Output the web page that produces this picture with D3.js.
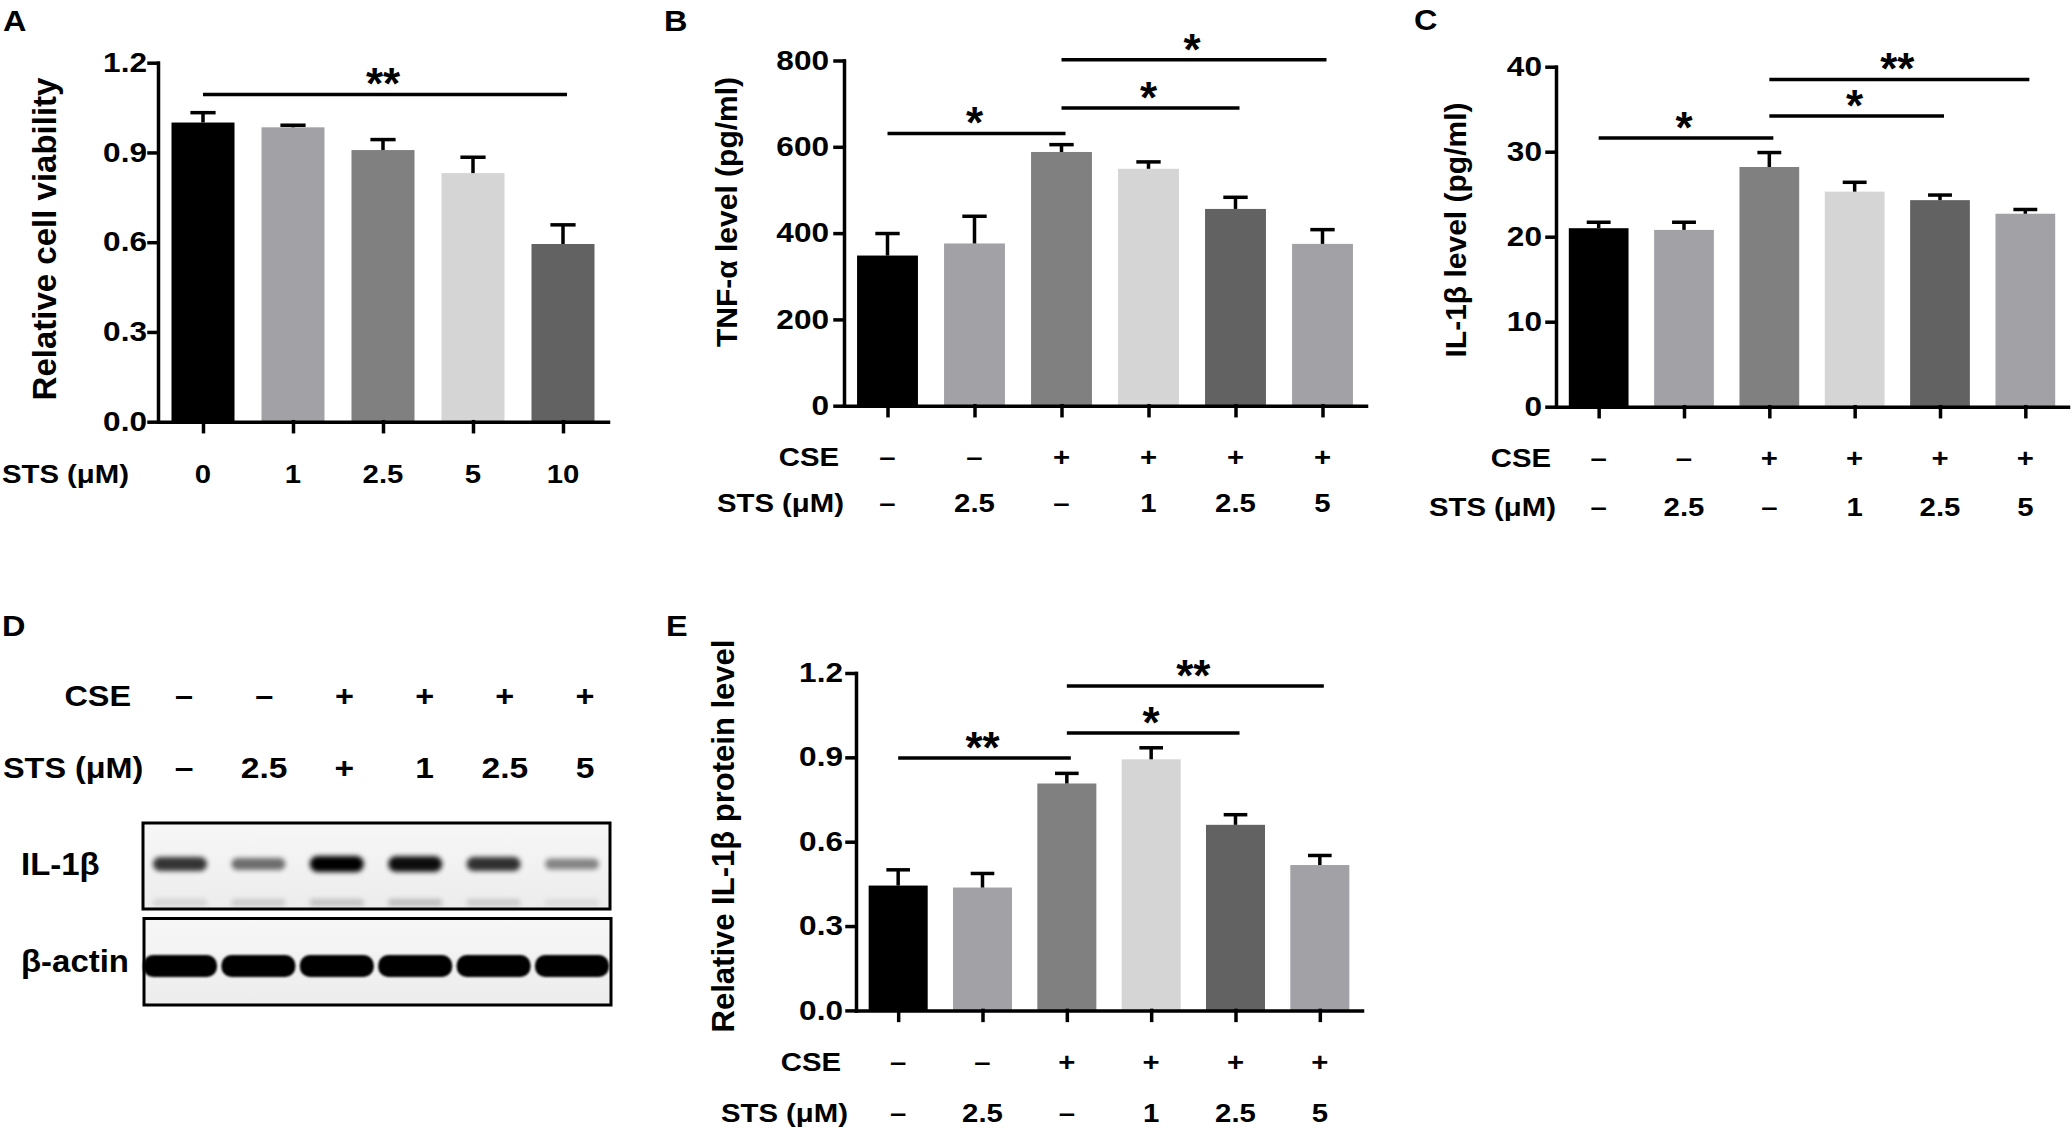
<!DOCTYPE html>
<html lang="en">
<head>
<meta charset="UTF-8">
<title>STS and CSE panels</title>
<script src="https://d3js.org/d3.v7.min.js"></script>
<style>
  body { margin: 0; background: #fff; }
  svg text { font-family: "Liberation Sans", Arial, sans-serif; font-weight: bold; fill: #000; }
  .axis path, .axis line { stroke: #000; stroke-width: 3.5px; stroke-linecap: square; }
  .axis .tick text { font-size: 27px; font-family: "Liberation Sans", Arial, sans-serif; }
</style>
</head>
<body>
<svg id="fig" width="2072" height="1130"></svg>
<script>
// ---- data ----
const stsDoses = ["0", "1", "2.5", "5", "10"];
const viability = [1.00, 0.984, 0.908, 0.831, 0.594];
const viabilityErr = [0.033, 0.007, 0.035, 0.053, 0.064];

const cseRow = ["–", "–", "+", "+", "+", "+"];
const stsRow = ["–", "2.5", "–", "1", "2.5", "5"];
const blotStsRow = ["–", "2.5", "+", "1", "2.5", "5"];

const tnf = [348, 376, 588, 549, 456, 375];
const tnfErr = [51, 63, 17, 16, 27, 33];

const il1b = [21.0, 20.8, 28.2, 25.3, 24.3, 22.7];
const il1bErr = [0.7, 0.9, 1.7, 1.1, 0.6, 0.5];

const protein = [0.444, 0.437, 0.807, 0.893, 0.660, 0.517];
const proteinErr = [0.056, 0.050, 0.036, 0.041, 0.036, 0.034];

// blot band strength per lane (0..1)
const il1bBand = [0.78, 0.55, 1.0, 0.95, 0.8, 0.45];
const lowerBand = [0.10, 0.14, 0.18, 0.2, 0.14, 0.07];
const actinBand = [1, 1, 1, 1, 1, 1];

// significance brackets: [from, to, value, label]
const sigA = [[0, 4, 1.094, "**"]];
const sigB = [[0, 2, 631, "*"], [2, 4, 690, "*"], [2, 5, 802, "*"]];
const sigC = [[0, 2, 31.6, "*"], [2, 4, 34.2, "*"], [2, 5, 38.5, "**"]];
const sigE = [[0, 2, 0.898, "**"], [2, 4, 0.987, "*"], [2, 5, 1.154, "**"]];

const ticksRel = [0, 0.3, 0.6, 0.9, 1.2];
const ticksTnf = [0, 200, 400, 600, 800];
const ticksIl = [0, 10, 20, 30, 40];

const barColors = ["#000000", "#a1a1a6", "#808080", "#d5d5d5", "#626262", "#a1a1a6"];

const svg = d3.select("#fig");
svg.append("rect").attr("width", 2072).attr("height", 1130).attr("fill", "#fff");

// horizontal text, slightly widened like the original figure lettering
function htext(parent, x, y, str, size, anchor, sx) {
  return parent.append("text")
      .attr("transform", `translate(${x},${y}) scale(${sx || 1.15},1)`)
      .attr("text-anchor", anchor || "start")
      .attr("font-size", size)
      .text(str);
}

function barPanel(cfg) {
  const g = svg.append("g");
  const cats = cfg.values.map((d, i) => i);
  const x = d3.scalePoint().domain(cats).range([cfg.x0, cfg.x1]).padding(0.5);
  const y = d3.scaleLinear().domain([0, cfg.max]).range([cfg.yBot, cfg.yTop]);
  const bw = x.step() * 0.7;
  const cw = bw * 0.4;

  // bars
  g.selectAll("rect.bar").data(cfg.values).join("rect")
      .attr("class", "bar")
      .attr("x", (d, i) => x(i) - bw / 2)
      .attr("y", d => y(d))
      .attr("width", bw)
      .attr("height", d => y(0) - y(d))
      .attr("fill", (d, i) => barColors[i]);

  // error bars (upper only)
  const eb = g.selectAll("g.err").data(cfg.values).join("g").attr("class", "err");
  eb.append("line")
      .attr("x1", (d, i) => x(i)).attr("x2", (d, i) => x(i))
      .attr("y1", d => y(d)).attr("y2", (d, i) => y(d + cfg.errs[i]))
      .attr("stroke", "#000").attr("stroke-width", 3.5);
  eb.append("line")
      .attr("x1", (d, i) => x(i) - cw / 2).attr("x2", (d, i) => x(i) + cw / 2)
      .attr("y1", (d, i) => y(d + cfg.errs[i])).attr("y2", (d, i) => y(d + cfg.errs[i]))
      .attr("stroke", "#000").attr("stroke-width", 3.5);

  // axes
  const sx = 1.17;
  g.append("g").attr("class", "axis")
      .attr("transform", `translate(${cfg.x0},0)`)
      .call(d3.axisLeft(y).tickValues(cfg.ticks).tickFormat(cfg.fmt)
        .tickSize(9).tickSizeOuter(0))
    .selectAll(".tick text")
      .attr("x", -cfg.gap / sx)
      .attr("transform", `scale(${sx},1)`);
  g.append("g").attr("class", "axis")
      .attr("transform", `translate(0,${cfg.yBot})`)
      .call(d3.axisBottom(x).tickFormat("").tickSize(10).tickSizeOuter(0));

  // y label
  g.append("text")
      .attr("transform", `translate(${cfg.labX},${cfg.labY}) rotate(-90)`)
      .attr("text-anchor", "middle")
      .attr("font-size", cfg.labSize)
      .text(cfg.ylabel);

  // significance
  cfg.sig.forEach(s => {
    const xa = x(s[0]), xb = x(s[1]), yy = y(s[2]);
    g.append("line").attr("x1", xa).attr("x2", xb + 4).attr("y1", yy).attr("y2", yy)
        .attr("stroke", "#000").attr("stroke-width", 3.5);
    g.append("text").attr("x", (xa + xb) / 2).attr("y", yy + 5)
        .attr("text-anchor", "middle").attr("font-size", 44).text(s[3]);
  });

  // treatment rows under the axis
  cfg.rows.forEach(r => {
    htext(g, r.right, r.y, r.label, 25.5, "end");
    r.vals.forEach((v, i) => htext(g, x(i), r.y, v, 25.5, "middle"));
  });
}

// A
htext(svg, 3, 31, "A", 29, "start", 1.12);
barPanel({
  values: viability, errs: viabilityErr, max: 1.2, ticks: ticksRel, fmt: d3.format(".1f"),
  x0: 158, x1: 608, yTop: 62.7, yBot: 421.7, gap: 11,
  ylabel: "Relative cell viability", labX: 56, labY: 239, labSize: 33,
  sig: sigA,
  rows: [{ label: "STS (μM)", vals: stsDoses, y: 483, right: 129 }]
});

// B
htext(svg, 664, 31, "B", 29, "start", 1.12);
barPanel({
  values: tnf, errs: tnfErr, max: 800, ticks: ticksTnf, fmt: d3.format("d"),
  x0: 844, x1: 1366, yTop: 60.5, yBot: 405.7, gap: 15,
  ylabel: "TNF-α level (pg/ml)", labX: 737, labY: 212, labSize: 30,
  sig: sigB,
  rows: [{ label: "CSE", vals: cseRow, y: 466, right: 839 },
         { label: "STS (μM)", vals: stsRow, y: 512, right: 844 }]
});

// C
htext(svg, 1414, 30, "C", 29, "start", 1.12);
barPanel({
  values: il1b, errs: il1bErr, max: 40, ticks: ticksIl, fmt: d3.format("d"),
  x0: 1556, x1: 2068, yTop: 66.7, yBot: 406.7, gap: 14,
  ylabel: "IL-1β level (pg/ml)", labX: 1466, labY: 230, labSize: 30,
  sig: sigC,
  rows: [{ label: "CSE", vals: cseRow, y: 467, right: 1551 },
         { label: "STS (μM)", vals: stsRow, y: 516, right: 1556 }]
});

// E
htext(svg, 666, 636, "E", 29, "start", 1.12);
barPanel({
  values: protein, errs: proteinErr, max: 1.2, ticks: ticksRel, fmt: d3.format(".1f"),
  x0: 856, x1: 1362, yTop: 673, yBot: 1010.4, gap: 13,
  ylabel: "Relative IL-1β protein level", labX: 734, labY: 836, labSize: 31,
  sig: sigE,
  rows: [{ label: "CSE", vals: cseRow, y: 1071, right: 841 },
         { label: "STS (μM)", vals: stsRow, y: 1122, right: 848 }]
});

// D: western blot
htext(svg, 2, 636, "D", 29, "start", 1.12);
const defs = svg.append("defs");
defs.append("filter").attr("id", "blur").attr("x", "-20%").attr("y", "-80%")
    .attr("width", "140%").attr("height", "260%")
  .append("feGaussianBlur").attr("stdDeviation", 2.4);
defs.append("filter").attr("id", "blurS").attr("x", "-20%").attr("y", "-80%")
    .attr("width", "140%").attr("height", "260%")
  .append("feGaussianBlur").attr("stdDeviation", 1.3);
const grad = defs.append("linearGradient").attr("id", "blotBg")
    .attr("x1", 0).attr("y1", 0).attr("x2", 0).attr("y2", 1);
grad.append("stop").attr("offset", 0).attr("stop-color", "#f7f7f7");
grad.append("stop").attr("offset", 1).attr("stop-color", "#ececec");

const lanes = d3.range(6);
const labelX = d3.scalePoint().domain(lanes).range([184, 585]);
const laneX = d3.scalePoint().domain(lanes).range([180, 572]);
const d = svg.append("g");

htext(d, 131, 706, "CSE", 30, "end", 1.08);
cseRow.forEach((v, i) => htext(d, labelX(i), 706, v, 30, "middle", 1.08));
htext(d, 3, 778, "STS (μM)", 30, "start", 1.08);
blotStsRow.forEach((v, i) => htext(d, labelX(i), 778, v, 30, "middle", 1.12));

// boxes
d.append("rect").attr("x", 143).attr("y", 823).attr("width", 467).attr("height", 86)
    .attr("fill", "url(#blotBg)").attr("stroke", "#000").attr("stroke-width", 3);
d.append("rect").attr("x", 144).attr("y", 918.5).attr("width", 467).attr("height", 86.5)
    .attr("fill", "url(#blotBg)").attr("stroke", "#000").attr("stroke-width", 3);

d.selectAll("rect.il").data(il1bBand).join("rect").attr("class", "il")
    .attr("x", (v, i) => laneX(i) - 27).attr("width", 54)
    .attr("y", v => 864 - (7 + 9 * v) / 2).attr("height", v => 7 + 9 * v)
    .attr("rx", v => (7 + 9 * v) / 2)
    .attr("fill", "#000").attr("opacity", v => v)
    .attr("filter", "url(#blur)");
d.selectAll("rect.low").data(lowerBand).join("rect").attr("class", "low")
    .attr("x", (v, i) => laneX(i) - 27).attr("width", 54)
    .attr("y", 899).attr("height", 7).attr("rx", 3)
    .attr("fill", "#000").attr("opacity", v => v)
    .attr("filter", "url(#blur)");
d.selectAll("rect.act").data(actinBand).join("rect").attr("class", "act")
    .attr("x", (v, i) => laneX(i) - 37).attr("width", 74)
    .attr("y", 955).attr("height", 22).attr("rx", 10)
    .attr("fill", "#000").attr("opacity", v => v)
    .attr("filter", "url(#blurS)");

htext(d, 21, 875, "IL-1β", 30.5, "start", 1.08);
htext(d, 21, 972, "β-actin", 30.5, "start", 1.08);
</script>
</body>
</html>
